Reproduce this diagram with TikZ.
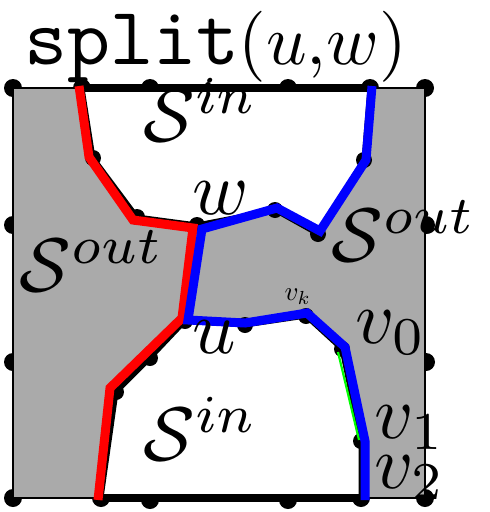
\documentclass[tikz,border=0pt]{standalone}
\definecolor{regiongray}{HTML}{AAAAAA}
\definecolor{pathred}{HTML}{FF0000}
\definecolor{pathblue}{HTML}{0000FF}
\definecolor{pathgreen}{HTML}{00FF00}
\begin{document}
\begin{tikzpicture}[x=1pt,y=-1pt,
  outline/.style={line width=5pt,black},
  thickedge/.style={line width=8pt,black},
  framestyle/.style={line width=2.6pt,black},
  redpath/.style={line width=9pt,pathred},
  bluepath/.style={line width=9pt,pathblue},
  greenpath/.style={line width=2.2pt,pathgreen},
  lab/.style={anchor=base west,inner sep=0pt,scale=7.6},
  smalllab/.style={anchor=base west,inner sep=0pt,scale=2.7}]
\useasboundingbox (0,0) rectangle (490,512);
% frame corners
\coordinate (TL) at (13,88);
\coordinate (TR) at (425,88);
\coordinate (BR) at (425,498);
\coordinate (BL) at (13,498);
% top white region
\coordinate (A) at (82,88);
\coordinate (B) at (93,158);
\coordinate (C) at (137,217);
\coordinate (W) at (197,225);
\coordinate (D) at (275,210);
\coordinate (E) at (318,234);
\coordinate (F) at (364,160);
\coordinate (G) at (370,88);
% bottom white region
\coordinate (U) at (185,321);
\coordinate (H) at (245,325);
\coordinate (VK) at (306,316);
\coordinate (V0) at (342,349);
\coordinate (V1) at (361,441);
\coordinate (V2) at (361,498);
\coordinate (I) at (101,498);
\coordinate (J) at (116,392);
\coordinate (K) at (150,358);
% dots on the frame (partly hidden by the regions)
\foreach \p in {TL,TR,BR,BL,A,G,I,V2}
  \fill (\p) circle (9);
\foreach \q in {(150,88),(288,88),(150,500),(288,500),(13,225),(13,362),(426,225),(426,362)}
  \fill \q circle (9);
% fills
\fill[regiongray] (TL) rectangle (BR);
\fill[white] (A)--(B)--(C)--(W)--(D)--(E)--(F)--(G)--cycle;
\fill[white] (U)--(H)--(VK)--(V0)--(V1)--(V2)--(I)--(J)--(K)--cycle;
% outlines
\draw[framestyle] (TL) rectangle (BR);
\draw[outline] (A)--(B)--(C)--(W)--(D)--(E)--(F)--(G);
\draw[outline] (U)--(H)--(VK)--(V0)--(V1)--(V2);
\draw[outline] (I)--(J)--(K)--(U);
\draw[thickedge] (A)--(G);
\draw[thickedge] (I)--(V2);
\fill (208,85) circle (3);
% inner dots
\foreach \p in {B,C,W,D,E,F,U,H,VK,V0,V1,J,K}
  \fill (\p) circle (8);
% coloured paths
\coordinate (r1) at (79,86);
\coordinate (r2) at (89,157);
\coordinate (r3) at (133,220);
\coordinate (r4) at (193,228);
\coordinate (r5) at (182,318);
\coordinate (r6) at (110,388);
\coordinate (r7) at (98,500);
\draw[redpath] (r1)--(r2)--(r3)--(r4)--(r5)--(r6)--(r7);
\coordinate (b1) at (372,86);
\coordinate (b2) at (366,160);
\coordinate (b3) at (320,231);
\coordinate (b4) at (277,208);
\coordinate (b5) at (202,229);
\coordinate (b6) at (188,320);
\coordinate (b7) at (245,323);
\coordinate (b8) at (307,313);
\coordinate (b9) at (345,347);
\coordinate (b10) at (365,441);
\coordinate (b11) at (365,500);
\draw[bluepath] (b1)--(b2)--(b3)--(b4)--(b5)--(b6)--(b7)--(b8)--(b9)--(b10)--(b11);
\coordinate (g1) at (338,352);
\coordinate (g2) at (359,440);
\draw[greenpath] (g1)--(g2);
% labels
\node[anchor=base west,inner sep=0pt,scale=8.2] (tsplit) at (23,64) {\texttt{split}};
\node[anchor=base west,inner sep=0pt,scale=7.1] (tuw) at (237,64) {$(u{,}w)$};
\node[lab] (sint) at (142,141) {$\mathcal{S}^{in}$};
\node[lab] (sinb) at (142,460) {$\mathcal{S}^{in}$};
\node[lab] (soutr) at (330,261) {$\mathcal{S}^{out}$};
\node[lab] (soutl) at (18,291) {$\mathcal{S}^{out}$};
\node[lab] (lw) at (191,214) {$w$};
\node[lab] (lu) at (191,353) {$u$};
\node[lab] (lv0) at (354,343) {$v_0$};
\node[lab] (lv1) at (373,438) {$v_1$};
\node[lab] (lv2) at (373,488) {$v_2$};
\node[smalllab] (lvk) at (284,300) {$v_k$};
\end{tikzpicture}
\end{document}
